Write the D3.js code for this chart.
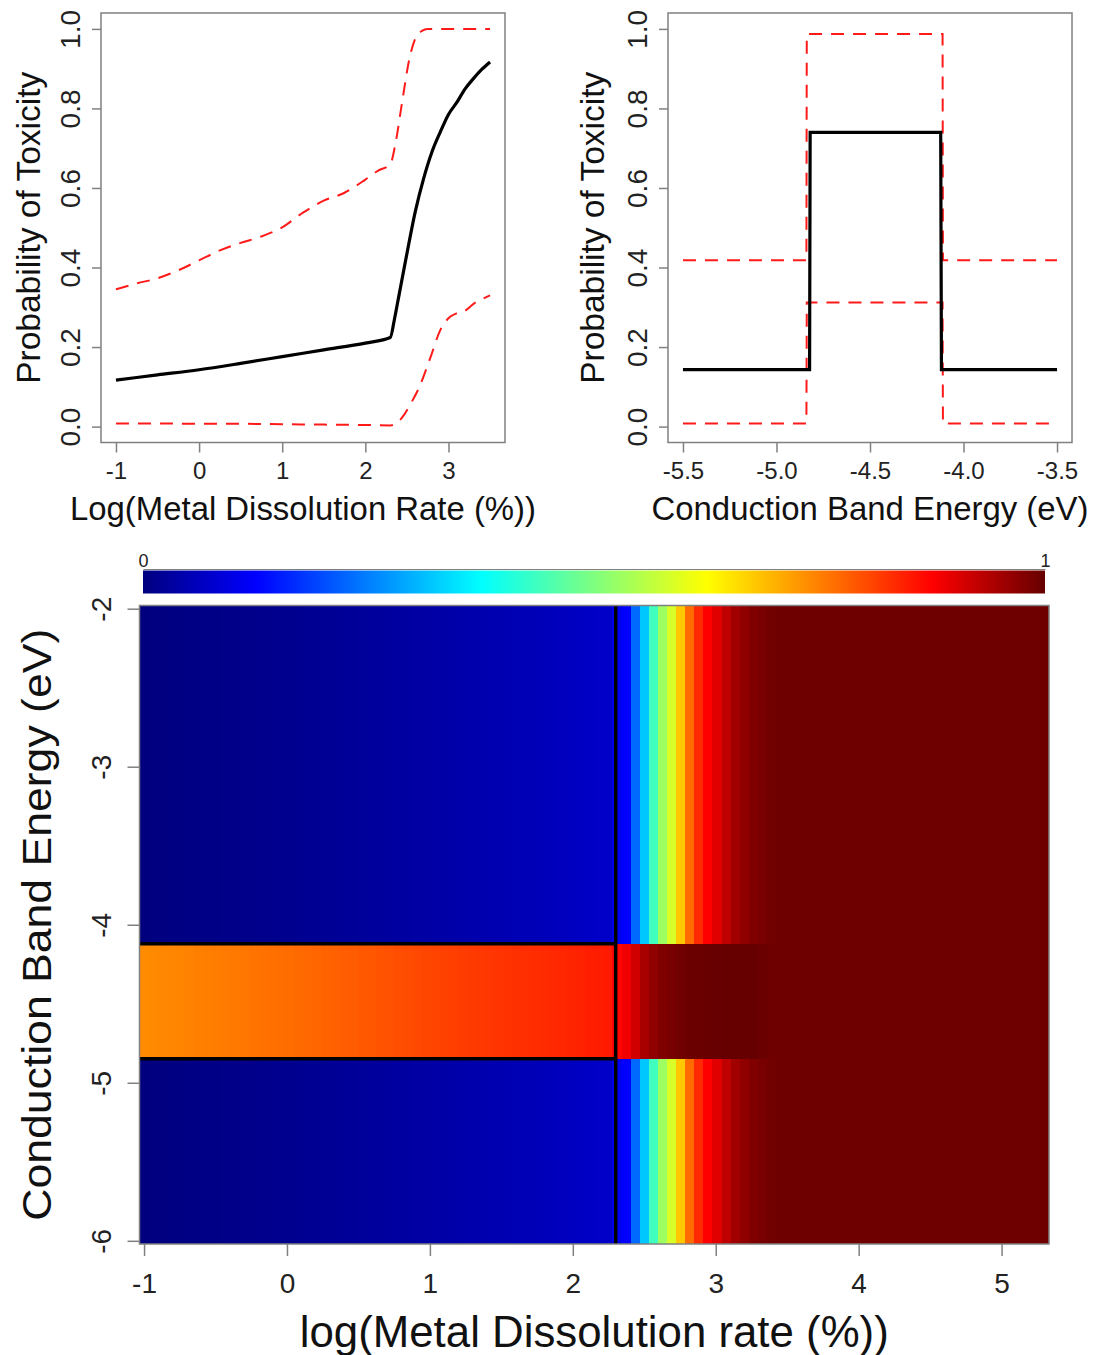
<!DOCTYPE html>
<html>
<head>
<meta charset="utf-8">
<script src="https://cdn.jsdelivr.net/npm/d3@7"></script>
<style>
body { margin: 0; background: #fff; }
svg { display: block; font-family: "Liberation Sans", Arial, sans-serif; }
.frame { fill: none; stroke: #808080; stroke-width: 1.5; }
.axis line { stroke: #808080; stroke-width: 1.5; }
.axis path { stroke: #808080; stroke-width: 1.2; }
.axis text { fill: #222; }
.mean { fill: none; stroke: #000; stroke-width: 3.2; }
.bound { fill: none; stroke: #ff1a1a; stroke-width: 2; stroke-dasharray: 13 9; }
</style>
</head>
<body>
<svg width="1093" height="1355"></svg>
<script>
// top left: probability vs log dissolution rate
const rateX = [-1, -0.5, 0, 0.5, 1, 1.5, 2, 2.3, 2.35, 2.4, 2.5, 2.6, 2.7, 2.8, 2.9, 3.0, 3.1, 3.2, 3.3, 3.4, 3.5];
const rateMean = [0.117, 0.130, 0.143, 0.159, 0.176, 0.193, 0.210, 0.224, 0.27, 0.325, 0.435, 0.54, 0.623, 0.69, 0.74, 0.785, 0.815, 0.849, 0.875, 0.898, 0.917];
const rateUpperX = [-1, -0.75, -0.5, -0.25, 0, 0.25, 0.5, 0.75, 1, 1.25, 1.5, 1.75, 2, 2.15, 2.3, 2.36, 2.44, 2.53, 2.6, 2.68, 2.75, 3.0, 3.25, 3.5];
const rateUpper = [0.345, 0.36, 0.373, 0.393, 0.418, 0.443, 0.462, 0.478, 0.501, 0.538, 0.568, 0.588, 0.621, 0.643, 0.66, 0.709, 0.813, 0.925, 0.975, 0.995, 1.0, 1.0, 1.0, 1.0];
const rateLowerX = [-1, -0.5, 0, 0.5, 1, 1.5, 2, 2.3, 2.37, 2.45, 2.53, 2.65, 2.78, 2.9, 3.02, 3.1, 3.19, 3.31, 3.4, 3.5];
const rateLower = [0.008, 0.008, 0.007, 0.007, 0.006, 0.005, 0.004, 0.003, 0.008, 0.025, 0.052, 0.1, 0.172, 0.242, 0.276, 0.285, 0.29, 0.31, 0.32, 0.33];

// top right: probability vs conduction band energy
const energyX = [-5.5, -4.823, -4.82, -4.122, -4.118, -3.5];
const energyMean = [0.143, 0.143, 0.74, 0.74, 0.143, 0.143];
const energyBoundX = [-5.5, -4.84, -4.838, -4.112, -4.11, -3.5];
const energyUpper = [0.418, 0.418, 0.987, 0.987, 0.418, 0.418];
const energyLower = [0.008, 0.008, 0.312, 0.312, 0.008, 0.008];

const rateTicks = [-1, 0, 1, 2, 3];
const energyTicks = [-5.5, -5.0, -4.5, -4.0, -3.5];
const probTicks = [0, 0.2, 0.4, 0.6, 0.8, 1.0];

// bottom: heat map over a 100 x 100 grid
const gridRate = [-1, 5.3];
const gridEnergy = [-6, -2];
const gridCount = 100;
const bandEdges = [-4.848, -4.121];
const boundaryRate = 2.3;
const probOutsideBand = [
  0.000, 0.001, 0.002, 0.003, 0.004, 0.005, 0.006, 0.007, 0.008, 0.009,
  0.010, 0.011, 0.012, 0.013, 0.014, 0.015, 0.016, 0.017, 0.019, 0.020,
  0.021, 0.022, 0.024, 0.025, 0.026, 0.028, 0.029, 0.030, 0.032, 0.033,
  0.035, 0.036, 0.038, 0.039, 0.041, 0.042, 0.044, 0.045, 0.047, 0.049,
  0.050, 0.052, 0.054, 0.055, 0.057, 0.059, 0.061, 0.063, 0.065, 0.067,
  0.069, 0.071, 0.110, 0.125, 0.229, 0.321, 0.438, 0.530, 0.587, 0.679,
  0.770, 0.834, 0.875, 0.900, 0.927, 0.953, 0.966, 0.979, 0.985, 0.991,
  0.993, 0.993, 0.993, 0.993, 0.993, 0.993, 0.993, 0.993, 0.993, 0.993,
  0.993, 0.993, 0.993, 0.993, 0.993, 0.993, 0.993, 0.993, 0.993, 0.993,
  0.993, 0.993, 0.993, 0.993, 0.993, 0.993, 0.993, 0.993, 0.993, 0.993
];
const probInBand = [
  0.737, 0.739, 0.741, 0.743, 0.745, 0.747, 0.749, 0.751, 0.753, 0.755,
  0.757, 0.759, 0.761, 0.763, 0.765, 0.767, 0.769, 0.771, 0.773, 0.775,
  0.778, 0.780, 0.783, 0.785, 0.788, 0.790, 0.793, 0.795, 0.798, 0.800,
  0.803, 0.806, 0.808, 0.811, 0.813, 0.816, 0.818, 0.820, 0.822, 0.824,
  0.826, 0.828, 0.830, 0.832, 0.834, 0.836, 0.838, 0.840, 0.842, 0.844,
  0.846, 0.849, 0.870, 0.887, 0.913, 0.946, 0.966, 0.979, 0.985, 0.991,
  0.995, 0.997, 0.998, 0.999, 1.000, 1.000, 1.000, 1.000, 0.996, 0.993,
  0.993, 0.993, 0.993, 0.993, 0.993, 0.993, 0.993, 0.993, 0.993, 0.993,
  0.993, 0.993, 0.993, 0.993, 0.993, 0.993, 0.993, 0.993, 0.993, 0.993,
  0.993, 0.993, 0.993, 0.993, 0.993, 0.993, 0.993, 0.993, 0.993, 0.993
];
const mapRateTicks = [-1, 0, 1, 2, 3, 4, 5];
const mapEnergyTicks = [-2, -3, -4, -5, -6];
const colorbarTicks = [0, 1];
const jetColors = ['#00007F', '#0000FF', '#007FFF', '#00FFFF', '#7FFF7F', '#FFFF00', '#FF7F00', '#FF0000', '#660000'];

const FONT = '"Liberation Sans", Arial, sans-serif';
const svg = d3.select('svg');

const label = (x, y, text, size, len, rotate) => {
    const t = svg.append('text')
        .attr('transform', `translate(${x},${y})` + (rotate ? ' rotate(-90)' : ''))
        .attr('text-anchor', 'middle')
        .attr('font-size', size)
        .attr('fill', '#111')
        .text(text);
    if (rotate) t.attr('dy', '0.36em');
    if (len) t.attr('textLength', len).attr('lengthAdjust', 'spacingAndGlyphs');
    return t;
};

const panel = (box, xDomain, xTicks, xFmt, series, curve, xTitle, xTitleLen, yTitleX) => {
    const x = d3.scaleLinear().domain(xDomain).range([box.x0, box.x1]);
    const y = d3.scaleLinear().domain([-0.04, 1.04]).range([box.y1, box.y0]);
    const g = svg.append('g');

    g.append('g').attr('class', 'axis')
        .attr('transform', `translate(0,${box.y1})`)
        .call(d3.axisBottom(x).tickValues(xTicks).tickFormat(xFmt).tickSize(10).tickSizeOuter(0).tickPadding(9))
        .attr('font-family', FONT).attr('font-size', 24)
        .call(a => a.select('.domain').remove());

    g.append('g').attr('class', 'axis')
        .attr('transform', `translate(${box.x0},0)`)
        .call(d3.axisLeft(y).tickValues(probTicks).tickFormat(d => d.toFixed(1)).tickSize(9).tickSizeOuter(0))
        .attr('font-family', FONT).attr('font-size', 28)
        .call(a => a.select('.domain').remove())
        .selectAll('text')
            .attr('x', null)
            .attr('dy', '0.36em')
            .attr('text-anchor', 'middle')
            .attr('transform', 'translate(-31,0) rotate(-90)');

    const line = d3.line().x(d => x(d[0])).y(d => y(d[1])).curve(curve);
    series.forEach(s => {
        g.append('path')
            .datum(d3.zip(s.x, s.y))
            .attr('class', s.cls)
            .attr('d', line);
    });

    g.append('rect').attr('class', 'frame')
        .attr('x', box.x0).attr('y', box.y0)
        .attr('width', box.x1 - box.x0).attr('height', box.y1 - box.y0);

    label((box.x0 + box.x1) / 2, 520, xTitle, 33, xTitleLen);
    label(yTitleX, (box.y0 + box.y1) / 2, 'Probability of Toxicity', 33, 312, true);
};

panel({x0: 101, x1: 505, y0: 13, y1: 442.5}, [-1.18, 3.68], rateTicks, d => String(d), [
    {x: rateUpperX, y: rateUpper, cls: 'bound'},
    {x: rateLowerX, y: rateLower, cls: 'bound'},
    {x: rateX, y: rateMean, cls: 'mean'}
], d3.curveMonotoneX, 'Log(Metal Dissolution Rate (%))', 466, 28);

panel({x0: 668, x1: 1072, y0: 13, y1: 442.5}, [-5.58, -3.42], energyTicks, d => d.toFixed(1), [
    {x: energyBoundX, y: energyUpper, cls: 'bound'},
    {x: energyBoundX, y: energyLower, cls: 'bound'},
    {x: energyX, y: energyMean, cls: 'mean'}
], d3.curveLinear, 'Conduction Band Energy (eV)', 437, 592);

// heat map
const hm = {x0: 139.5, x1: 1049, y0: 605.5, y1: 1244};
const rStep = (gridRate[1] - gridRate[0]) / (gridCount - 1);
const eStep = (gridEnergy[1] - gridEnergy[0]) / (gridCount - 1);
const rates = d3.range(gridCount).map(i => gridRate[0] + i * rStep);
const xh = d3.scaleLinear().domain([gridRate[0] - rStep / 2, gridRate[1] + rStep / 2]).range([hm.x0, hm.x1]);
const yh = d3.scaleLinear().domain([gridEnergy[0] - eStep / 2, gridEnergy[1] + eStep / 2]).range([hm.y1, hm.y0]);
const color = d3.scaleLinear()
    .domain(jetColors.map((c, i) => i / (jetColors.length - 1)))
    .range(jetColors)
    .clamp(true);

const segments = [
    {lo: yh.domain()[0], hi: bandEdges[0], vals: probOutsideBand},
    {lo: bandEdges[0], hi: bandEdges[1], vals: probInBand},
    {lo: bandEdges[1], hi: yh.domain()[1], vals: probOutsideBand}
];
const cells = segments.flatMap(s => rates.map((r, i) => ({r, lo: s.lo, hi: s.hi, v: s.vals[i]})));

svg.append('g')
    .attr('shape-rendering', 'crispEdges')
    .selectAll('rect').data(cells)
    .join('rect')
        .attr('x', d => Math.round(xh(d.r - rStep / 2)))
        .attr('width', d => Math.round(xh(d.r + rStep / 2)) - Math.round(xh(d.r - rStep / 2)))
        .attr('y', d => Math.round(yh(d.hi)))
        .attr('height', d => Math.round(yh(d.lo)) - Math.round(yh(d.hi)))
        .attr('fill', d => color(d.v));

const edges = svg.append('g').attr('stroke', '#000').attr('stroke-width', 3.5);
edges.append('line')
    .attr('x1', xh(boundaryRate)).attr('x2', xh(boundaryRate))
    .attr('y1', hm.y0).attr('y2', hm.y1);
edges.selectAll('line.band').data(bandEdges)
    .join('line').attr('class', 'band')
        .attr('x1', hm.x0).attr('x2', xh(boundaryRate))
        .attr('y1', d => yh(d)).attr('y2', d => yh(d));

svg.append('rect').attr('class', 'frame').attr('stroke-width', 1)
    .attr('x', hm.x0).attr('y', hm.y0)
    .attr('width', hm.x1 - hm.x0).attr('height', hm.y1 - hm.y0);

svg.append('g').attr('class', 'axis')
    .attr('transform', `translate(0,${hm.y1})`)
    .call(d3.axisBottom(xh).tickValues(mapRateTicks).tickFormat(d => String(d)).tickSize(12).tickSizeOuter(0).tickPadding(17))
    .attr('font-family', FONT).attr('font-size', 28)
    .call(a => a.select('.domain').remove());

svg.append('g').attr('class', 'axis')
    .attr('transform', `translate(${hm.x0},0)`)
    .call(d3.axisLeft(yh).tickValues(mapEnergyTicks).tickFormat(d => String(d)).tickSize(12).tickSizeOuter(0))
    .attr('font-family', FONT).attr('font-size', 28)
    .call(a => a.select('.domain').remove())
    .selectAll('text')
        .attr('x', null)
        .attr('dy', '0.36em')
        .attr('text-anchor', 'middle')
        .attr('transform', 'translate(-39,0) rotate(-90)');

label((hm.x0 + hm.x1) / 2, 1347, 'log(Metal Dissolution rate (%))', 44, 589);
label(37, (hm.y0 + hm.y1) / 2, 'Conduction Band Energy (eV)', 40, 592, true);

// colour bar
const cb = d3.scaleLinear().domain([0, 1]).range([143, 1045]);
const grad = svg.append('defs').append('linearGradient').attr('id', 'jet');
grad.selectAll('stop').data(jetColors)
    .join('stop')
        .attr('offset', (d, i) => i / (jetColors.length - 1))
        .attr('stop-color', d => d);
svg.append('rect')
    .attr('x', cb(0)).attr('y', 570.5)
    .attr('width', cb(1) - cb(0)).attr('height', 23)
    .attr('fill', 'url(#jet)');
svg.append('g').attr('class', 'axis')
    .attr('transform', 'translate(0,569)')
    .call(d3.axisTop(cb).tickValues(colorbarTicks).tickFormat(d => String(d)).tickSize(0).tickPadding(2))
    .attr('font-family', FONT).attr('font-size', 18);
</script>
</body>
</html>
